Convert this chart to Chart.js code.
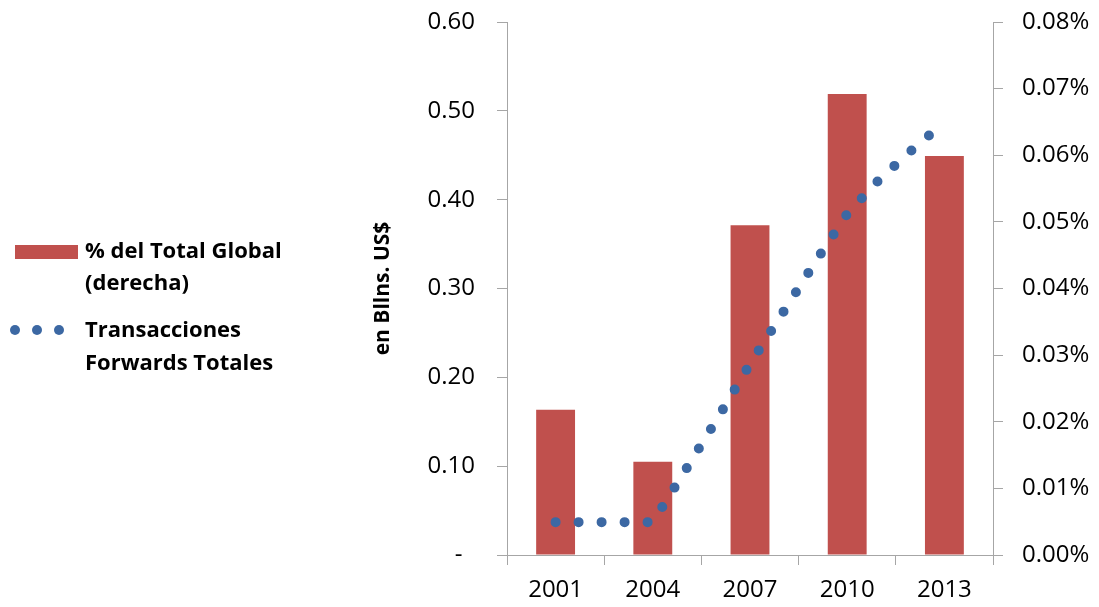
<!DOCTYPE html>
<html>
<head>
<meta charset="utf-8">
<script src="https://cdn.jsdelivr.net/npm/chart.js@4/dist/chart.umd.min.js"></script>
<style>
  body { margin: 0; background: #fff; }
  #wrap { width: 1099px; height: 607px; }
</style>
</head>
<body>
<div id="wrap"><canvas id="chart" width="1099" height="607"></canvas></div>
<script>
const categories = ["2001", "2004", "2007", "2010", "2013"];
// % del total global (right axis, in percent)
const shareValues = [0.0218, 0.014, 0.0495, 0.0692, 0.0599];
// forwards totales, yearly (left axis, bllns US$)
const years = [2001, 2002, 2003, 2004, 2005, 2006, 2007, 2008, 2009, 2010, 2011, 2012, 2013];
const forwardValues = [0.037, 0.037, 0.037, 0.037, 0.095, 0.154, 0.215, 0.272, 0.329, 0.384, 0.423, 0.456, 0.487];

const barColor = "#C0504D";
const dotColor = "#3C68A3";
const axisColor = "#A6A6A6";
const fontFamily = "'Open Sans', sans-serif";

const legendBox = {
  id: "legendBox",
  afterDraw(chart) {
    const ctx = chart.ctx;
    ctx.save();
    ctx.fillStyle = barColor;
    ctx.fillRect(15, 245, 63, 14);
    ctx.fillStyle = dotColor;
    [15, 37, 59].forEach((x) => {
      ctx.beginPath();
      ctx.arc(x, 330, 5, 0, Math.PI * 2);
      ctx.fill();
    });
    ctx.fillStyle = "#000";
    ctx.font = "bold 22px " + fontFamily;
    ctx.textBaseline = "middle";
    ctx.textAlign = "left";
    ctx.fillText("% del Total Global", 85, 252);
    ctx.fillText("(derecha)", 85, 284);
    ctx.fillText("Transacciones", 85, 331);
    ctx.fillText("Forwards Totales", 85, 364);
    ctx.restore();
  },
};

// keep tick label padding from pushing the plot area in
function noVPad(scale, w) {
  scale.width = w;
  scale.paddingTop = 0;
  scale.paddingBottom = 0;
}

new Chart(document.getElementById("chart"), {
  type: "bar",
  data: {
    labels: categories,
    datasets: [
      {
        type: "line",
        label: "Transacciones Forwards Totales",
        data: years.map((y, i) => ({ x: y, y: forwardValues[i] })),
        xAxisID: "xl",
        yAxisID: "y",
        borderColor: dotColor,
        borderWidth: 10,
        borderDash: [0, 23],
        borderCapStyle: "round",
        pointRadius: 0,
        tension: 0,
        fill: false,
        order: 0,
      },
      {
        label: "% del Total Global (derecha)",
        data: shareValues,
        xAxisID: "x",
        yAxisID: "y2",
        backgroundColor: barColor,
        grouped: false,
        categoryPercentage: 1,
        barPercentage: 0.4,
        order: 1,
      },
    ],
  },
  options: {
    responsive: false,
    animation: false,
    layout: { padding: { top: 22, left: 0, right: 0, bottom: 0 } },
    plugins: {
      legend: { display: false },
      tooltip: { enabled: false },
    },
    scales: {
      x: {
        type: "category",
        position: "bottom",
        offset: true,
        grid: { offset: true, drawOnChartArea: false, tickLength: 10, color: axisColor },
        border: { color: axisColor },
        ticks: { color: "#000", padding: 11, font: { family: fontFamily, size: 24 } },
        afterFit(scale) {
          scale.height = 52;
          scale.paddingLeft = 0;
          scale.paddingRight = 0;
        },
      },
      xl: {
        type: "linear",
        axis: "x",
        display: false,
        offset: false,
        min: 1999.5,
        max: 2014.5,
      },
      y: {
        position: "left",
        min: 0,
        max: 0.6,
        ticks: {
          stepSize: 0.1,
          color: "#000",
          padding: 22,
          font: { family: fontFamily, size: 24 },
          callback: (v) => (v === 0 ? "-  " : v.toFixed(2)),
        },
        grid: { drawOnChartArea: false, tickLength: 10, color: axisColor },
        border: { color: axisColor },
        title: {
          display: true,
          text: "en Bllns. US$",
          color: "#000",
          font: { family: fontFamily, size: 21, weight: "bold" },
          padding: { top: 370, bottom: 0 },
        },
        afterFit(scale) { noVPad(scale, 507); },
      },
      y2: {
        position: "right",
        min: 0,
        max: 0.08,
        ticks: {
          stepSize: 0.01,
          color: "#000",
          padding: 19,
          font: { family: fontFamily, size: 24 },
          callback: (v) => v.toFixed(2) + "%",
        },
        grid: { drawOnChartArea: false, tickLength: 10, color: axisColor },
        border: { color: axisColor },
        afterFit(scale) { noVPad(scale, 106); },
      },
    },
  },
  plugins: [legendBox],
});
</script>
</body>
</html>
